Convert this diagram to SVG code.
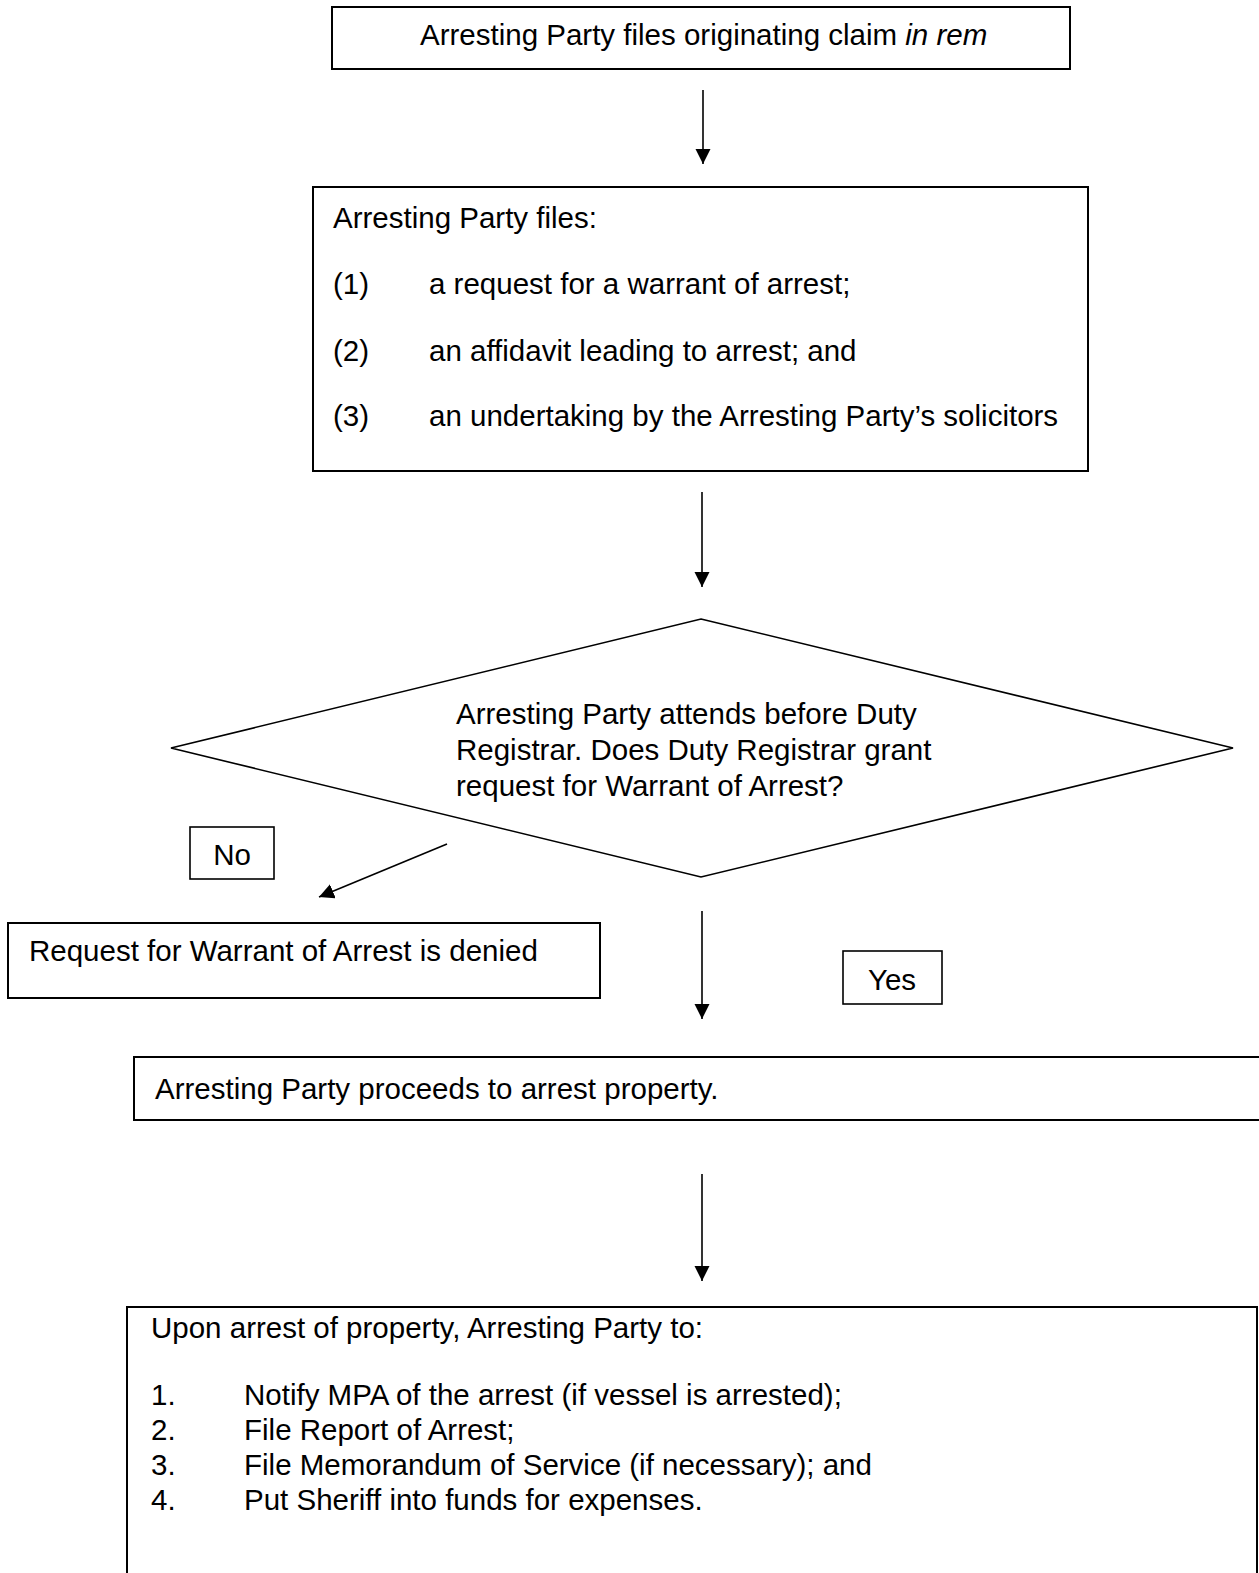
<svg xmlns="http://www.w3.org/2000/svg" width="1259" height="1573" viewBox="0 0 1259 1573">
<style>
.box{fill:#fff;stroke:#000;stroke-width:2}
.lbl{fill:#fff;stroke:#000;stroke-width:1.6}
.t{font-family:"Liberation Sans",Arial,sans-serif;font-size:29.5px;fill:#000}
.conn{stroke:#000;stroke-width:1.6;fill:none}
</style>
<defs>
<marker id="ah" markerUnits="userSpaceOnUse" markerWidth="16" markerHeight="16" viewBox="0 0 16 16" refX="15" refY="7.5" orient="auto">
<path d="M0,0 L15,7.5 L0,15 z" fill="#000"/>
</marker>
</defs>
<rect width="1259" height="1573" fill="#fff"/>
<g id="connectors">
<line class="conn" x1="703" y1="90" x2="703" y2="164" marker-end="url(#ah)"/>
<line class="conn" x1="702" y1="492" x2="702" y2="587" marker-end="url(#ah)"/>
<line class="conn" x1="447" y1="844" x2="319" y2="897" marker-end="url(#ah)"/>
<line class="conn" x1="702" y1="911" x2="702" y2="1019" marker-end="url(#ah)"/>
<line class="conn" x1="702" y1="1174" x2="702" y2="1281" marker-end="url(#ah)"/>
</g>
<g id="n1">
<rect class="box" x="332" y="7" width="738" height="62"/>
<text class="t" x="420" y="45">Arresting Party files originating claim <tspan font-style="italic">in rem</tspan></text>
</g>
<g id="n2">
<rect class="box" x="313" y="187" width="775" height="284"/>
<text class="t" x="333" y="228">Arresting Party files:</text>
<text class="t" x="333" y="294">(1)</text><text class="t" x="429" y="294">a request for a warrant of arrest;</text>
<text class="t" x="333" y="361">(2)</text><text class="t" x="429" y="361">an affidavit leading to arrest; and</text>
<text class="t" x="333" y="426">(3)</text><text class="t" x="429" y="426">an undertaking by the Arresting Party’s solicitors</text>
</g>
<g id="n3">
<polygon class="conn" points="701,619 1233,748 701,877 171,748" style="fill:#fff"/>
<text class="t" x="456" y="724">Arresting Party attends before Duty</text>
<text class="t" x="456" y="760">Registrar. Does Duty Registrar grant</text>
<text class="t" x="456" y="796">request for Warrant of Arrest?</text>
</g>
<g id="lblNo">
<rect class="lbl" x="190" y="827" width="84" height="52"/>
<text class="t" x="232" y="865" text-anchor="middle">No</text>
</g>
<g id="n4">
<rect class="box" x="8" y="923" width="592" height="75"/>
<text class="t" x="29" y="961">Request for Warrant of Arrest is denied</text>
</g>
<g id="lblYes">
<rect class="lbl" x="843" y="951" width="99" height="53"/>
<text class="t" x="892" y="990" text-anchor="middle">Yes</text>
</g>
<g id="n5">
<rect class="box" x="134" y="1057" width="1140" height="63"/>
<text class="t" x="155" y="1099">Arresting Party proceeds to arrest property.</text>
</g>
<g id="n6">
<rect class="box" x="127" y="1307" width="1130" height="280"/>
<text class="t" x="151" y="1338">Upon arrest of property, Arresting Party to:</text>
<text class="t" x="151" y="1405">1.</text><text class="t" x="244" y="1405">Notify MPA of the arrest (if vessel is arrested);</text>
<text class="t" x="151" y="1440">2.</text><text class="t" x="244" y="1440">File Report of Arrest;</text>
<text class="t" x="151" y="1475">3.</text><text class="t" x="244" y="1475">File Memorandum of Service (if necessary); and</text>
<text class="t" x="151" y="1510">4.</text><text class="t" x="244" y="1510">Put Sheriff into funds for expenses.</text>
</g>
</svg>
